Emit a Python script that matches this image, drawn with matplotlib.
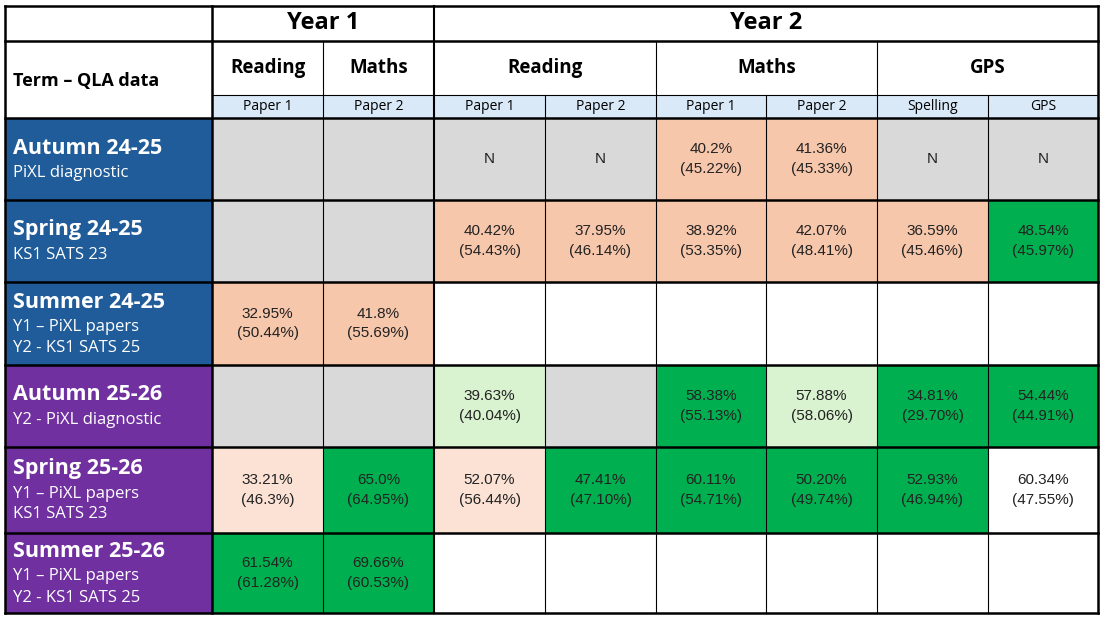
import matplotlib.pyplot as plt
from matplotlib.patches import Rectangle

# ---- data ----
year_headers = ["Year 1", "Year 2"]
subjects = ["Reading", "Maths", "Reading", "Maths", "GPS"]
papers = ["Paper 1", "Paper 2", "Paper 1", "Paper 2", "Paper 1", "Paper 2", "Spelling", "GPS"]

term_titles = ["Autumn 24-25", "Spring 24-25", "Summer 24-25",
               "Autumn 25-26", "Spring 25-26", "Summer 25-26"]
term_notes = [["PiXL diagnostic"],
              ["KS1 SATS 23"],
              ["Y1 \u2013 PiXL papers", "Y2 - KS1 SATS 25"],
              ["Y2 - PiXL diagnostic"],
              ["Y1 \u2013 PiXL papers", "KS1 SATS 23"],
              ["Y1 \u2013 PiXL papers", "Y2 - KS1 SATS 25"]]
term_year = ["24-25", "24-25", "24-25", "25-26", "25-26", "25-26"]

# score (national) per cell, "" = empty
scores = [
    ["", "", "N", "N", "40.2%", "41.36%", "N", "N"],
    ["", "", "40.42%", "37.95%", "38.92%", "42.07%", "36.59%", "48.54%"],
    ["32.95%", "41.8%", "", "", "", "", "", ""],
    ["", "", "39.63%", "", "58.38%", "57.88%", "34.81%", "54.44%"],
    ["33.21%", "65.0%", "52.07%", "47.41%", "60.11%", "50.20%", "52.93%", "60.34%"],
    ["61.54%", "69.66%", "", "", "", "", "", ""],
]
national = [
    ["", "", "", "", "45.22%", "45.33%", "", ""],
    ["", "", "54.43%", "46.14%", "53.35%", "48.41%", "45.46%", "45.97%"],
    ["50.44%", "55.69%", "", "", "", "", "", ""],
    ["", "", "40.04%", "", "55.13%", "58.06%", "29.70%", "44.91%"],
    ["46.3%", "64.95%", "56.44%", "47.10%", "54.71%", "49.74%", "46.94%", "47.55%"],
    ["61.28%", "60.53%", "", "", "", "", "", ""],
]
# rating: x = not taken, r = below, a = slightly below, g = above, lg = close, w = none
rating = [
    ["x", "x", "x", "x", "r", "r", "x", "x"],
    ["x", "x", "r", "r", "r", "r", "r", "g"],
    ["r", "r", "w", "w", "w", "w", "w", "w"],
    ["x", "x", "lg", "x", "g", "lg", "g", "g"],
    ["a", "g", "a", "g", "g", "g", "g", "w"],
    ["g", "g", "w", "w", "w", "w", "w", "w"],
]

# ---- style ----
fill = {"x": "#D9D9D9", "r": "#F7C7AC", "a": "#FBE2D5", "g": "#00B050",
        "lg": "#D9F2D0", "w": "#FFFFFF"}
year_fill = {"24-25": "#1F5C99", "25-26": "#7030A0"}
paper_fill = "#DAE9F7"
head_font = "Open Sans"
num_font = ["Liberation Sans Narrow", "Liberation Sans"]

xs = [5, 212, 323, 434, 545, 656, 766, 877, 988, 1098]
ys_head = [6, 41, 95, 118]
ys_rows = [118, 200, 282, 365, 447, 533, 613]

fig = plt.figure(figsize=(11.15, 6.34), dpi=100)
ax = fig.add_axes([0, 0, 1, 1])
ax.set_xlim(0, 1115)
ax.set_ylim(634, 0)
ax.axis("off")


def box(x0, y0, x1, y1, color):
    ax.add_patch(Rectangle((x0, y0), x1 - x0, y1 - y0, facecolor=color,
                           edgecolor="none", zorder=1))


# header
ax.text(13, 81, "Term \u2013 QLA data", fontsize=13, fontweight="bold",
        family=head_font, va="center", ha="left")
ax.text((xs[1] + xs[3]) / 2, 23, year_headers[0], fontsize=17, fontweight="bold",
        family=head_font, ha="center", va="center")
ax.text((xs[3] + xs[9]) / 2, 23, year_headers[1], fontsize=17, fontweight="bold",
        family=head_font, ha="center", va="center")

subj_spans = [(1, 2), (2, 3), (3, 5), (5, 7), (7, 9)]
for name, (a, b) in zip(subjects, subj_spans):
    ax.text((xs[a] + xs[b]) / 2, 68, name, fontsize=13.5, fontweight="bold",
            family=head_font, ha="center", va="center")

for i, p in enumerate(papers):
    box(xs[i + 1], ys_head[2], xs[i + 2], ys_head[3], paper_fill)
    ax.text((xs[i + 1] + xs[i + 2]) / 2, 106.5, p, fontsize=10, family=head_font,
            ha="center", va="center")

# body
for r in range(len(term_titles)):
    y0, y1 = ys_rows[r], ys_rows[r + 1]
    box(xs[0], y0, xs[1], y1, year_fill[term_year[r]])
    lines = term_notes[r]
    n = len(lines)
    top = (y0 + y1) / 2 - (11 if n == 1 else 21.5)
    ax.text(13, top, term_titles[r], color="white", fontsize=15.5, fontweight="bold",
            family=head_font, ha="left", va="center")
    for k, ln in enumerate(lines):
        ax.text(13, top + 25 + k * 21, ln, color="white", fontsize=12,
                family=head_font, ha="left", va="center")
    for c in range(len(papers)):
        cx0, cx1 = xs[c + 1], xs[c + 2]
        box(cx0, y0, cx1, y1, fill[rating[r][c]])
        cx = (cx0 + cx1) / 2
        cy = (y0 + y1) / 2
        s, nat = scores[r][c], national[r][c]
        if s and nat:
            ax.text(cx, cy - 10, s, fontsize=11, family=num_font, color="#222222",
                    ha="center", va="center", zorder=3)
            ax.text(cx, cy + 10, "(" + nat + ")", fontsize=11, family=num_font,
                    color="#222222", ha="center", va="center", zorder=3)
        elif s:
            ax.text(cx, cy, s, fontsize=11, family=num_font, color="#222222",
                    ha="center", va="center", zorder=3)

# grid lines
def hline(y, x0, x1, lw):
    ax.plot([x0, x1], [y, y], color="black", lw=lw, zorder=4,
            solid_capstyle="projecting")


def vline(x, y0, y1, lw):
    ax.plot([x, x], [y0, y1], color="black", lw=lw, zorder=4,
            solid_capstyle="projecting")


hline(ys_head[0], xs[0], xs[9], 1.8)
hline(ys_head[1], xs[0], xs[9], 1.8)
hline(ys_head[2], xs[1], xs[9], 0.8)
for y in ys_rows:
    hline(y, xs[0], xs[9], 1.8)
vline(xs[0], ys_head[0], ys_rows[-1], 1.8)
vline(xs[9], ys_head[0], ys_rows[-1], 1.8)
vline(xs[1], ys_head[0], ys_rows[-1], 1.8)
vline(xs[3], ys_head[0], ys_rows[-1], 1.5)
vline(xs[2], ys_head[1], ys_rows[-1], 0.8)
vline(xs[5], ys_head[1], ys_rows[-1], 0.8)
vline(xs[7], ys_head[1], ys_rows[-1], 0.8)
for i in (4, 6, 8):
    vline(xs[i], ys_head[2], ys_rows[-1], 0.8)

fig.savefig("out.png", dpi=100, facecolor="white")
